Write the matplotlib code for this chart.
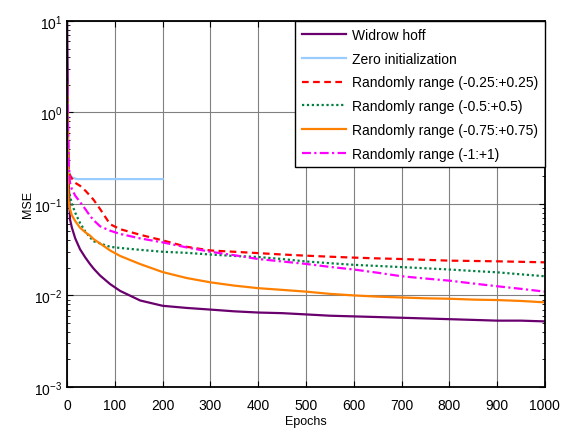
import numpy as np
import matplotlib.pyplot as plt

plt.rcParams['font.family'] = ['Liberation Sans', 'DejaVu Sans']

epochs = [0, 1, 2, 3, 6, 10, 17, 27, 38, 48, 56, 69, 90, 111, 153, 200,
          250, 300, 350, 400, 450, 500, 550, 600, 650, 700, 750, 800, 850, 900, 950, 1000]

widrow = [10, 3, 0.5, 0.2, 0.068, 0.055, 0.042, 0.032, 0.026, 0.022, 0.0195, 0.0165, 0.0133,
          0.0112, 0.0088, 0.0077, 0.0073, 0.0070, 0.0067, 0.0065, 0.0064,
          0.0062, 0.0060, 0.0059, 0.0058, 0.0057, 0.0056, 0.0055, 0.0054, 0.0053, 0.0053, 0.0052]

zero_epochs = [0, 1, 2, 4, 6, 10, 20, 200]
zero_init = [2, 0.6, 0.3, 0.23, 0.21, 0.195, 0.187, 0.187]

rand_025 = [2, 1, 0.5, 0.24, 0.204, 0.19, 0.17, 0.158, 0.14, 0.123, 0.11, 0.088, 0.060, 0.053,
            0.046, 0.040, 0.034, 0.031, 0.030, 0.029, 0.028, 0.0272, 0.0265,
            0.0259, 0.0254, 0.025, 0.0245, 0.024, 0.0238, 0.0236, 0.0233, 0.023]

rand_05 = [1.5, 0.5, 0.2, 0.14, 0.123, 0.1, 0.08, 0.062, 0.05, 0.043, 0.039, 0.037, 0.034,
           0.033, 0.0315, 0.030, 0.0292, 0.028, 0.027, 0.0263, 0.025, 0.0235,
           0.0225, 0.0216, 0.021, 0.0204, 0.0198, 0.0192, 0.0185, 0.0179, 0.017, 0.0162]

rand_075 = [2, 0.5, 0.18, 0.11, 0.088, 0.075, 0.065, 0.055, 0.049, 0.045, 0.041, 0.037, 0.031,
            0.027, 0.022, 0.018, 0.0155, 0.0139, 0.0128, 0.012, 0.0115, 0.011,
            0.0104, 0.0100, 0.0097, 0.0095, 0.0093, 0.0092, 0.009, 0.0089, 0.0087, 0.0084]

rand_1 = [3, 1.5, 0.6, 0.3, 0.17, 0.145, 0.123, 0.105, 0.088, 0.074, 0.066, 0.057, 0.051, 0.047,
          0.042, 0.038, 0.0335, 0.030, 0.0275, 0.025, 0.0235, 0.0221, 0.0205,
          0.0192, 0.0177, 0.0162, 0.0153, 0.0145, 0.0135, 0.0126, 0.0118, 0.011]

fig = plt.figure(figsize=(5.64, 4.31), dpi=100)
ax = fig.add_axes([0.119, 0.1, 0.847, 0.849])

ax.plot(epochs, widrow, color='#6a006e', lw=1.6, label='Widrow hoff')
ax.plot(zero_epochs, zero_init, color='#99ccff', lw=1.6, label='Zero initialization')
ax.plot(epochs, rand_025, color='#ff0000', lw=1.6, ls=(0, (3, 2)), label='Randomly range (-0.25:+0.25)')
ax.plot(epochs, rand_05, color='#008040', lw=1.6, ls=(0, (1, 1.2)), label='Randomly range (-0.5:+0.5)')
ax.plot(epochs, rand_075, color='#ff8000', lw=1.6, label='Randomly range (-0.75:+0.75)')
ax.plot(epochs, rand_1, color='#ff00ff', lw=1.6, ls=(0, (4, 1.5, 1, 1.5)), label='Randomly range (-1:+1)')

ax.set_yscale('log')
ax.set_xlim(0, 1000)
ax.set_ylim(1e-3, 10)
ax.set_xticks(np.arange(0, 1001, 100))
ax.grid(True, which='major', color='#808080', lw=0.8)
ax.tick_params(which='both', direction='in', top=True, right=True, labelsize=10)
ax.tick_params(which='major', length=4)
ax.tick_params(which='minor', length=2.5)
ax.tick_params(axis='x', pad=8)
for s in ax.spines.values():
    s.set_linewidth(1.3)

ax.set_xlabel('Epochs', fontsize=9, labelpad=2)
ax.set_ylabel('MSE', fontsize=9, labelpad=0)

leg = ax.legend(loc='upper right', fontsize=10, handlelength=3.2, labelspacing=0.7,
                fancybox=False, framealpha=1, borderaxespad=0, handletextpad=0.4,
                borderpad=0.5)
leg.get_frame().set_edgecolor('black')
leg.get_frame().set_linewidth(1.0)

fig.savefig('out.png')
